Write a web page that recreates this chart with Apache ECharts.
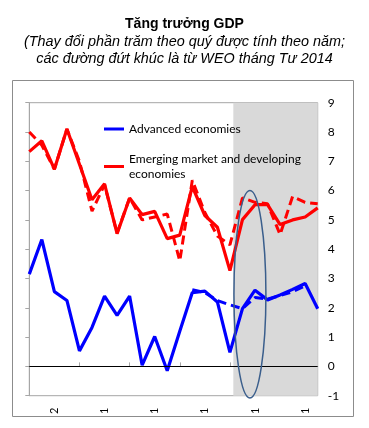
<!DOCTYPE html>
<html><head><meta charset="utf-8">
<script src="https://cdn.jsdelivr.net/npm/echarts@6/dist/echarts.min.js"></script>
<style>html,body{margin:0;padding:0;background:#fff}#c{width:369px;height:428px}</style>
</head><body><div id="c"></div>
<script>
// Quarter index along the x axis
const quarters = [0,1,2,3,4,5,6,7,8,9,10,11,12,13,14,15,16,17,18,19,20,21,22,23];
const tickPositions = [0,4,8,12,16,20];
const labelPositions = [2,6,10,14,18,22];
const tickLabels = ['2','1','1','1','1','1'];
const yTicks = [-1,0,1,2,3,4,5,6,7,8,9];

const advanced = [3.15,4.33,2.55,2.25,0.53,1.33,2.4,1.74,2.4,0.04,1.02,-0.15,1.2,2.52,2.57,2.2,0.48,1.97,2.6,2.27,2.44,2.63,2.83,1.97];
const advancedWEO = [null,null,null,null,null,null,null,null,null,null,null,null,null,2.62,2.52,2.25,2.1,1.97,2.35,2.3,2.42,2.55,2.75,null];
const emerging = [7.33,7.7,6.73,8.1,6.9,5.69,6.23,4.53,5.75,5.18,5.29,4.36,4.48,6.14,5.15,4.75,3.27,5.01,5.52,5.52,4.84,5.0,5.1,5.41];
const emergingWEO = [8.0,7.55,6.73,8.1,7.0,5.3,6.2,4.55,5.75,5.0,5.1,5.2,3.6,6.35,5.25,4.45,4.15,5.75,5.6,5.55,4.5,5.8,5.6,5.55];

const shadeRange = [16.27, 23.24];
const ellipseBox = {x0:16.32, x1:18.87, y0:-1.08, y1:6.0};

const pairs = arr => quarters.map((q,i)=>[q, arr[i]]);
const FONT = 'Lato';

const chart = echarts.init(document.getElementById('c'), null, {renderer:'canvas'});
const frame = {type:'rect', shape:{x:12.5, y:80.5, width:341, height:336}, style:{fill:'none', stroke:'#8c8c8c', lineWidth:1}, z:0, silent:true};
const option = {
  animation:false,
  backgroundColor:'#fff',
  title:[
    {text:'Tăng trưởng GDP', left:'center', top:17, padding:0,
     textStyle:{fontFamily:'Liberation Sans', fontSize:14, fontWeight:'bold', color:'#000'}},
    {text:'(Thay đổi phần trăm theo quý được tính theo năm;\ncác đường đứt khúc là từ WEO tháng Tư 2014', left:'center', top:33, padding:0,
     textStyle:{fontFamily:'Liberation Sans', fontSize:14.4, fontStyle:'italic', fontWeight:'normal', color:'#000', lineHeight:17, align:'center'}}
  ],
  grid:{left:29.3, right:51.3, top:102.7, bottom:32.3, show:true, borderColor:'#a6a6a6', borderWidth:1, backgroundColor:'transparent'},
  legend:[
    {left:104, top:123, padding:0, itemWidth:20, itemHeight:3, icon:'rect', data:['Advanced economies'],
     textStyle:{fontFamily:FONT, fontSize:12, color:'#000'}},
    {left:104, top:144, padding:0, itemWidth:20, itemHeight:3, icon:'rect',
     data:[{name:'Emerging market and developing\neconomies', textStyle:{padding:[15,0,0,0]}}],
     textStyle:{fontFamily:FONT, fontSize:12, color:'#000', lineHeight:15}}
  ],
  xAxis:{type:'value', min:0, max:23,
    axisLine:{show:true, lineStyle:{color:'#a6a6a6'}},
    axisTick:{show:true, inside:true, length:4, customValues:tickPositions, lineStyle:{color:'#a6a6a6'}},
    axisLabel:{show:true, customValues:labelPositions, rotate:90, margin:12,
      formatter:(v)=>{const k=labelPositions.indexOf(v); return k>=0?tickLabels[k]:'';},
      fontFamily:FONT, fontSize:11, color:'#000'},
    splitLine:{show:false}},
  yAxis:{type:'value', position:'right', min:-1, max:9, interval:1,
    axisLine:{show:true, lineStyle:{color:'#a6a6a6'}},
    axisTick:{show:true, inside:true, length:4, lineStyle:{color:'#a6a6a6'}},
    axisLabel:{margin:10, fontFamily:FONT, fontSize:12, color:'#000',
      formatter:(v)=> yTicks.includes(v)? String(v):''},
    splitLine:{show:false}},
  series:[
    {name:'Advanced economies WEO', type:'line', data:pairs(advancedWEO), showSymbol:false, clip:false,
     lineStyle:{color:'#0000ff', width:3, type:[9,5]}, itemStyle:{color:'#0000ff'}, z:2,
     markArea:{silent:true, itemStyle:{color:'#d9d9d9'},
       data:[[{xAxis:shadeRange[0], yAxis:-1},{xAxis:shadeRange[1], yAxis:9}]]},
     markLine:{silent:true, symbol:'none', label:{show:false},
       lineStyle:{color:'#000', width:1, type:'solid'}, data:[{yAxis:0}]}},
    {name:'Emerging WEO', type:'line', data:pairs(emergingWEO), showSymbol:false,
     lineStyle:{color:'#ff0000', width:3, type:[9,5]}, itemStyle:{color:'#ff0000'}, z:3},
    {name:'Advanced economies', type:'line', data:pairs(advanced), showSymbol:false,
     lineStyle:{color:'#0000ff', width:3.2}, itemStyle:{color:'#0000ff'}, z:4},
    {name:'Emerging market and developing\neconomies', type:'line', data:pairs(emerging), showSymbol:false,
     lineStyle:{color:'#ff0000', width:3.2}, itemStyle:{color:'#ff0000'}, z:4}
  ],
  graphic:[frame]
};
chart.setOption(option);

const p0 = chart.convertToPixel({gridIndex:0}, [ellipseBox.x0, ellipseBox.y1]);
const p1 = chart.convertToPixel({gridIndex:0}, [ellipseBox.x1, ellipseBox.y0]);
chart.setOption({graphic:[
  frame,
  {type:'ellipse', shape:{cx:(p0[0]+p1[0])/2, cy:(p0[1]+p1[1])/2, rx:(p1[0]-p0[0])/2, ry:(p1[1]-p0[1])/2},
   style:{fill:'none', stroke:'#3a5e8c', lineWidth:1.5}, z:100, silent:true}
]});
</script></body></html>
